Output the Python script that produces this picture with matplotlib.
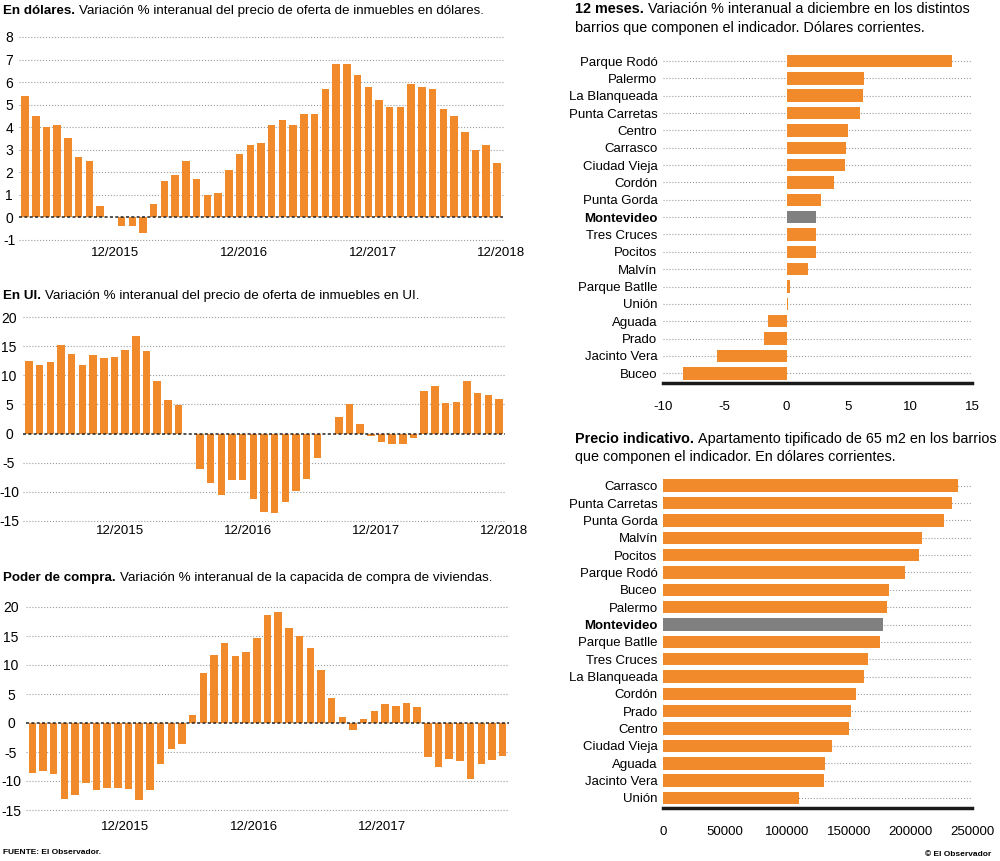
import matplotlib
matplotlib.use('Agg')
import matplotlib.pyplot as plt
import numpy as np

plt.rcParams['font.family'] = ['Liberation Sans', 'DejaVu Sans']

ORANGE = '#F08A2B'
GRAY = '#808080'
GRID = '#9c9c9c'

# monthly series, 04/2015 .. 12/2018
dolares = [5.4, 4.5, 4.0, 4.1, 3.5, 2.7, 2.5, 0.5, 0.0, -0.4, -0.4, -0.7,
           0.6, 1.6, 1.9, 2.5, 1.7, 1.0, 1.1, 2.1, 2.8, 3.2, 3.3, 4.1,
           4.3, 4.1, 4.6, 4.6, 5.7, 6.8, 6.8, 6.3, 5.8, 5.2, 4.9, 4.9,
           5.9, 5.8, 5.7, 4.8, 4.5, 3.8, 3.0, 3.2, 2.4]
ui = [12.4, 11.8, 12.2, 15.2, 13.7, 11.7, 13.5, 13.0, 13.2, 14.3, 16.8, 14.1,
      9.1, 5.7, 4.9, 0.0, -6.1, -8.5, -10.5, -8.0, -8.0, -11.3, -13.4, -13.6,
      -11.7, -9.8, -7.8, -4.2, 0.0, 2.8, 5.1, 1.6, -0.5, -1.5, -1.8, -1.8,
      -0.7, 7.3, 8.1, 5.3, 5.5, 9.0, 6.9, 6.6, 5.9]
poder = [-8.6, -8.2, -8.8, -13.1, -12.4, -10.3, -11.5, -11.2, -11.2, -11.4, -13.3, -11.6,
         -7.1, -4.5, -3.7, 1.3, 8.6, 11.8, 13.8, 11.6, 12.3, 14.6, 18.6, 19.1,
         16.4, 15.0, 13.0, 9.2, 4.3, 1.0, -1.2, 0.7, 2.0, 3.3, 3.0, 3.5,
         2.7, -5.9, -7.5, -6.2, -6.5, -9.6, -7.0, -6.3, -5.7]
meses_labels = ['12/2015', '12/2016', '12/2017', '12/2018']

barrios_12m = ['Parque Rodó', 'Palermo', 'La Blanqueada', 'Punta Carretas', 'Centro',
               'Carrasco', 'Ciudad Vieja', 'Cordón', 'Punta Gorda', 'Montevideo',
               'Tres Cruces', 'Pocitos', 'Malvín', 'Parque Batlle', 'Unión',
               'Aguada', 'Prado', 'Jacinto Vera', 'Buceo']
var_12m = [13.4, 6.3, 6.2, 5.9, 5.0, 4.8, 4.7, 3.8, 2.8, 2.4,
           2.4, 2.4, 1.7, 0.3, 0.1, -1.5, -1.8, -5.6, -8.4]

barrios_precio = ['Carrasco', 'Punta Carretas', 'Punta Gorda', 'Malvín', 'Pocitos',
                  'Parque Rodó', 'Buceo', 'Palermo', 'Montevideo', 'Parque Batlle',
                  'Tres Cruces', 'La Blanqueada', 'Cordón', 'Prado', 'Centro',
                  'Ciudad Vieja', 'Aguada', 'Jacinto Vera', 'Unión']
precio = [238400, 233800, 226800, 209500, 206900, 195300, 182600, 181000, 177500, 175300,
          165600, 162600, 156100, 151600, 149900, 136200, 131100, 130300, 109800]

W, H = 1000, 861
fig = plt.figure(figsize=(10, 8.61), dpi=100)


def px_axes(left, top, right, bottom):
    return fig.add_axes([left / W, 1 - bottom / H, (right - left) / W, (bottom - top) / H])


def title(x, y, bold, rest, size):
    t = fig.text(x / W, 1 - y / H, bold, fontsize=size, fontweight='bold', va='baseline')
    fig.axes[0].annotate(rest, xy=(1, 0), xycoords=t, xytext=(2.8, 0), textcoords='offset points',
                         fontsize=size, va='bottom', ha='left', annotation_clip=False)


def monthly(ax, vals, yticks, nlabels, xoff, xpad, label_x):
    x = np.arange(len(vals))
    for y in yticks:
        if y != 0:
            ax.axhline(y, color=GRID, ls=':', lw=0.8, zorder=1, clip_on=False)
    ax.bar(x, vals, width=0.7, color=ORANGE, zorder=2)
    ax.axhline(0, color='#222222', ls=(0, (2, 1.5)), lw=1.1, zorder=3)
    ax.set_xlim(-0.6, len(vals) - 0.4)
    ax.set_ylim(yticks[0], yticks[-1])
    ax.set_yticks(yticks)
    ax.set_yticklabels([str(v) for v in yticks], ha='center')
    ax.set_xticks([8 + xoff + 12 * i for i in range(nlabels)])
    ax.set_xticklabels(meses_labels[:nlabels])
    # centre of the y labels sits at label_x pixels from the figure edge
    left_px = ax.get_position().x0 * W
    ax.tick_params(axis='x', length=0, labelsize=9.5, pad=xpad)
    ax.tick_params(axis='y', length=0, labelsize=10, pad=(left_px - label_x) * 0.72)
    for s in ax.spines.values():
        s.set_visible(False)


def hbars(ax, labels, vals, xlim, xticks):
    y = np.arange(len(labels))
    for yy in y:
        ax.axhline(yy, color=GRID, ls=':', lw=0.8, zorder=1)
    colors = [GRAY if b == 'Montevideo' else ORANGE for b in labels]
    ax.barh(y, vals, height=0.72, color=colors, zorder=2)
    ax.set_ylim(len(labels) - 0.44, -0.56)
    ax.set_xlim(*xlim)
    ax.set_yticks(y)
    ax.set_yticklabels(labels)
    for lbl in ax.get_yticklabels():
        if lbl.get_text() == 'Montevideo':
            lbl.set_fontweight('bold')
    ax.set_xticks(xticks)
    ax.set_xticklabels([str(v) for v in xticks])
    ax.tick_params(axis='y', length=0, labelsize=9.5, pad=4)
    ax.tick_params(axis='x', length=0, labelsize=9.5, pad=13)
    for s in ['top', 'left', 'right']:
        ax.spines[s].set_visible(False)
    ax.spines['bottom'].set_linewidth(2.5)
    ax.spines['bottom'].set_color('#1a1a1a')


ax1 = px_axes(18.6, 37, 503.4, 240)
monthly(ax1, dolares, list(range(-1, 9)), 4, 0.4, 5, 9)

ax2 = px_axes(22.6, 317, 505.4, 521)
monthly(ax2, ui, list(range(-15, 21, 5)), 4, 0.5, 3, 9)

ax3 = px_axes(25.9, 607, 509.1, 810)
monthly(ax3, poder, list(range(-15, 21, 5)), 3, 0.7, 8, 11)

ax4 = px_axes(663, 51.3, 972, 383)
hbars(ax4, barrios_12m, var_12m, (-10, 15), [-10, -5, 0, 5, 10, 15])

ax5 = px_axes(663.3, 476, 972.3, 807.7)
hbars(ax5, barrios_precio, precio, (0, 250000), [0, 50000, 100000, 150000, 200000, 250000])

title(3, 14, 'En dólares.', 'Variación % interanual del precio de oferta de inmuebles en dólares.', 9.6)
title(3, 299, 'En UI.', 'Variación % interanual del precio de oferta de inmuebles en UI.', 9.6)
title(3, 581.5, 'Poder de compra.', 'Variación % interanual de la capacida de compra de viviendas.', 9.6)
title(575, 13.3, '12 meses.', 'Variación % interanual a diciembre en los distintos', 10.4)
fig.text(575 / W, 1 - 31.7 / H, 'barrios que componen el indicador. Dólares corrientes.',
         fontsize=10.4, va='baseline')
title(575, 443.3, 'Precio indicativo.', 'Apartamento tipificado de 65 m2 en los barrios', 10.4)
fig.text(575 / W, 1 - 460.5 / H, 'que componen el indicador. En dólares corrientes.',
         fontsize=10.4, va='baseline')

fig.text(3 / W, 1 - 853 / H, 'FUENTE: El Observador.', fontsize=6, va='center', fontweight='bold')
fig.text(991 / W, 1 - 855 / H, '© El Observador', fontsize=6, va='center', ha='right',
         fontweight='bold')

fig.savefig('out.png', dpi=100, facecolor='white')
